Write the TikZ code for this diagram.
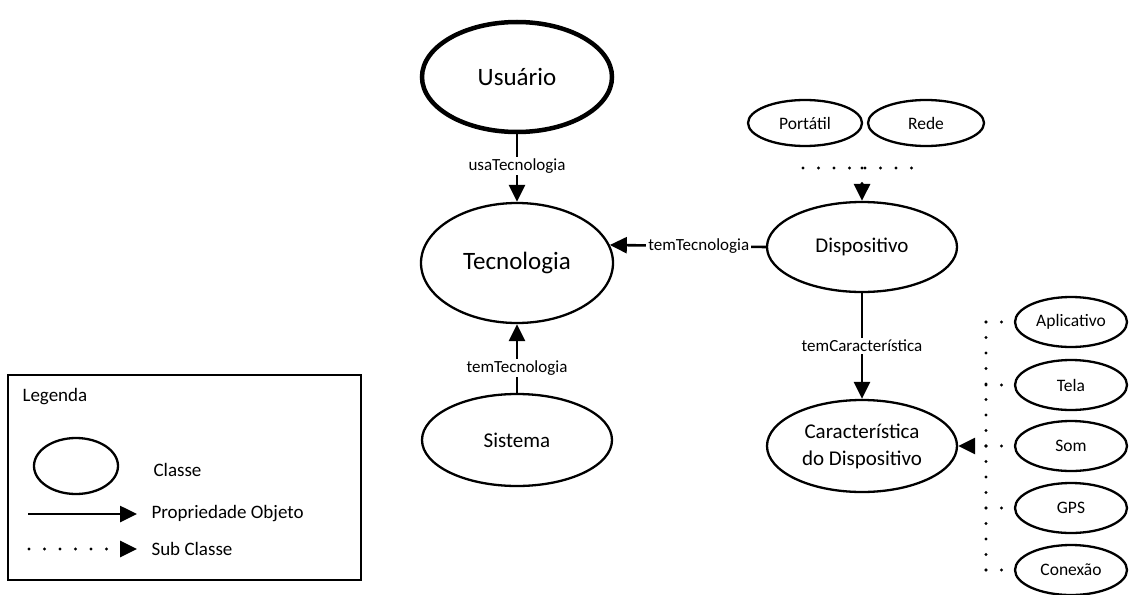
\documentclass[tikz,border=0pt]{standalone}
\usepackage{fontspec}
\setmainfont{Carlito}
\usetikzlibrary{shapes.geometric,arrows.meta}
\begin{document}
\begin{tikzpicture}[x=1pt,y=-1pt,
  cls/.style={ellipse,draw,line width=2.3pt,inner sep=0pt,align=center,fill=white},
  big/.style={cls,font=\fontsize{25}{30}\selectfont},
  mid/.style={cls,font=\fontsize{21}{27}\selectfont},
  small/.style={cls,font=\fontsize{17.5}{21}\selectfont},
  prop/.style={line width=2.6pt,-{Triangle[length=17pt,width=16pt]}},
  dots/.style={line width=3.1pt,line cap=round,dash pattern=on 0pt off 15.5pt},
  subarr/.style={dots,-{Triangle[length=17pt,width=16pt]}},
  lbl/.style={fill=white,inner sep=2pt,font=\fontsize{17}{20}\selectfont},
  leg/.style={anchor=west,font=\fontsize{19}{22}\selectfont}]
\useasboundingbox (0,0) rectangle (1131,594);

% main classes
\node[big,line width=4.5pt,minimum width=190pt,minimum height=110pt] (usu) at (517,77) {Usuário};
\node[big,minimum width=192pt,minimum height=120pt] (tec) at (517,263) {Tecnologia};
\node[mid,minimum width=190pt,minimum height=92pt] (sis) at (517,440) {Sistema};
\node[mid,minimum width=190pt,minimum height=90pt] (disp) at (862,247) {Dispositivo};
\node[mid,minimum width=190pt,minimum height=92pt] (car) at (862,446) {Característica\\do Dispositivo};

% subclasses of Dispositivo
\node[small,minimum width=114pt,minimum height=46pt] (port) at (805,123) {Portátil};
\node[small,minimum width=116pt,minimum height=46pt] (rede) at (926,123) {Rede};

% subclasses of Característica do Dispositivo
\node[small,minimum width=112pt,minimum height=50pt] (apl) at (1071,322) {Aplicativo};
\node[small,minimum width=112pt,minimum height=50pt] (tel) at (1071,385) {Tela};
\node[small,minimum width=112pt,minimum height=50pt] (som) at (1071,446) {Som};
\node[small,minimum width=112pt,minimum height=50pt] (gps) at (1071,508) {GPS};
\node[small,minimum width=112pt,minimum height=50pt] (con) at (1071,570) {Conexão};

% object properties
\draw[prop] (usu) -- node[lbl,pos=0.47] {usaTecnologia} (tec);
\draw[prop] (sis) -- node[lbl,pos=0.36] {temTecnologia} (tec);
\draw[prop] (disp.west) -- node[lbl,pos=0.43] {temTecnologia} (tec.11);
\draw[prop] (disp) -- node[lbl,pos=0.5] {temCaracterística} (car);

% subclass links to Dispositivo
\coordinate (tl) at (803,168);
\coordinate (tr) at (926,168);
\coordinate (tm) at (862,168);
\draw[dots] (tl) -- (tr);
\draw[subarr] (tm) -- (disp);

% subclass links to Característica do Dispositivo
\coordinate (vtop) at (986,322);
\coordinate (vbot) at (986,570);
\draw[dots] (vtop) -- (vbot);
\foreach \n in {apl,tel,som,gps,con}
  \draw[dots] (\n.west -| vtop) -- (\n.west);
\draw[subarr] (som.west -| vtop) -- (car.east);

% legend
\node[draw,line width=1.2pt,minimum width=353pt,minimum height=205pt,inner sep=0pt] (legbox) at (184.5,477.5) {};
\node[leg] (legt) at (19,397) {Legenda};
\node[ellipse,draw,line width=2.3pt,minimum width=84pt,minimum height=56pt,inner sep=0pt] (legell) at (76,466) {};
\node[leg] (legc) at (150,470) {Classe};
\coordinate (pa) at (28,514);
\coordinate (pb) at (137,514);
\node[leg] (legp) at (148,514) {Propriedade Objeto};
\draw[prop] (pa) -- (pb);
\coordinate (sa) at (29,549);
\coordinate (sb) at (137,549);
\node[leg] (legs) at (148,549) {Sub Classe};
\draw[subarr] (sa) -- (sb);
\end{tikzpicture}
\end{document}
